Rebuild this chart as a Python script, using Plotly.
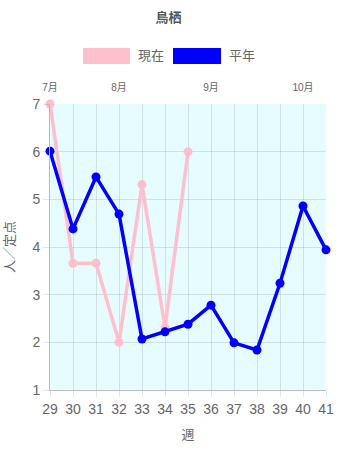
import plotly.graph_objects as go

weeks = list(range(29, 42))
current_weeks = [29, 30, 31, 32, 33, 34, 35]
current_vals = [7.0, 3.66, 3.66, 2.0, 5.31, 2.31, 6.0]
normal_vals = [6.01, 4.38, 5.47, 4.69, 2.07, 2.22, 2.38, 2.78, 1.99, 1.84, 3.24, 4.86, 3.94]
month_weeks = [29, 32, 36, 40]
month_labels = ["7月", "8月", "9月", "10月"]
series_names = ["現在", "平年"]
series_colors = ["pink", "blue"]

FONT = "Liberation Sans, Arial, Noto Sans CJK JP, sans-serif"
GREY = "#666666"

fig = go.Figure()
fig.add_trace(go.Scatter(x=current_weeks, y=current_vals, mode="lines+markers",
                         name=series_names[0], line=dict(color=series_colors[0], width=3.5),
                         marker=dict(size=9, color=series_colors[0]), cliponaxis=False,
                         showlegend=False))
fig.add_trace(go.Scatter(x=weeks, y=normal_vals, mode="lines+markers",
                         name=series_names[1], line=dict(color=series_colors[1], width=3.5),
                         marker=dict(size=9, color=series_colors[1]), cliponaxis=False,
                         showlegend=False))
# invisible trace to activate top axis
fig.add_trace(go.Scatter(x=[29, 41], y=[None, None], xaxis="x2", showlegend=False,
                         hoverinfo="skip"))

# custom legend (filled boxes like the original)
legend_boxes = [(83, 130, 136), (173, 221, 227)]
for (x0, x1, tx), name, col in zip(legend_boxes, series_names, series_colors):
    fig.add_shape(type="rect", xref="paper", yref="paper",
                  x0=(x0 - 50) / 276, x1=(x1 - 50) / 276,
                  y0=(390 - 64) / 286, y1=(390 - 48) / 286,
                  fillcolor=col, line=dict(width=0), layer="above")
    fig.add_annotation(text=name, xref="paper", yref="paper",
                       x=(tx - 50) / 276, y=(390 - 56) / 286, xanchor="left",
                       yanchor="middle", showarrow=False,
                       font=dict(size=13, color=GREY, family=FONT))

fig.update_layout(
    width=337, height=450,
    margin=dict(l=50, r=11, t=104, b=60),
    paper_bgcolor="white",
    plot_bgcolor="#e6fcff",
    title=dict(text="<b>鳥栖</b>", x=0.5, xanchor="center", y=1 - 17 / 450,
               yanchor="middle", font=dict(size=13, color="#555555", family=FONT)),
    font=dict(family=FONT, color=GREY),
    xaxis=dict(range=[29, 41], tickmode="array", tickvals=weeks, ticktext=[str(w) for w in weeks],
               automargin=False,
               showgrid=True, gridcolor="rgba(0,0,0,0.1)", zeroline=False,
               showline=True, linecolor="#bbbbbb", linewidth=1,
               ticks="outside", ticklen=6, tickcolor="rgba(0,0,0,0.1)",
               tickfont=dict(size=14, color=GREY, family=FONT),
               title=dict(text="週", font=dict(size=13, color=GREY, family=FONT), standoff=14)),
    xaxis2=dict(range=[29, 41], overlaying="x", side="top", tickmode="array", automargin=False,
                tickvals=month_weeks, ticktext=month_labels, showgrid=False, zeroline=False,
                showline=False, ticks="outside", ticklen=8, tickcolor="rgba(0,0,0,0)",
                tickfont=dict(size=10, color=GREY, family=FONT)),
    yaxis=dict(range=[1, 7], dtick=1, showgrid=True, gridcolor="rgba(0,0,0,0.1)",
               automargin=False,
               zeroline=False, showline=True, linecolor="#bbbbbb", linewidth=1,
               ticks="outside", ticklen=6, tickcolor="rgba(0,0,0,0.1)",
               tickfont=dict(size=14, color=GREY, family=FONT),
               title=dict(text="人／定点", font=dict(size=13, color=GREY, family=FONT), standoff=14)),
)

fig.write_html("out.html")
